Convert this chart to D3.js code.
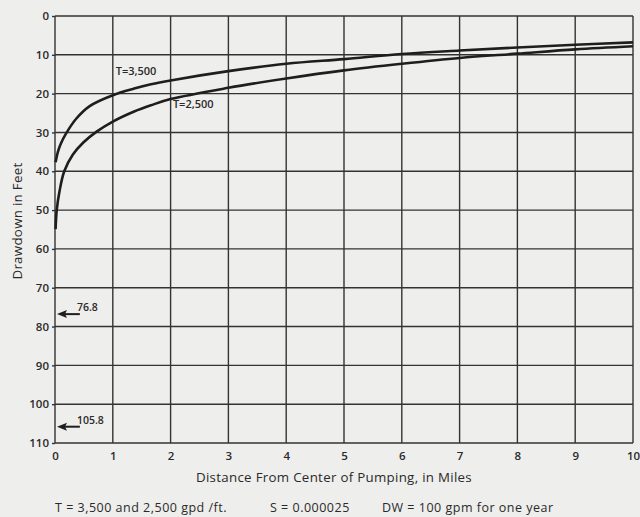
<!DOCTYPE html>
<html>
<head>
<meta charset="utf-8">
<script src="https://cdn.jsdelivr.net/npm/d3@7"></script>
<style>
  body { margin: 0; background: #eeeeec; }
  svg { display: block; }
  text { font-family: "Open Sans", "DejaVu Sans", sans-serif; fill: #2a2a2a; }
  .tick text { font-weight: 600; font-size: 11.5px; }
</style>
</head>
<body>
<script>
// miles from center of pumping vs drawdown in feet
var distT3500 = [0.01, 0.05, 0.1, 0.19, 0.37, 0.6, 1, 1.37, 1.66, 2, 3, 4, 5, 6, 7, 8, 9, 10];
var drawT3500 = [37.7, 35.0, 32.9, 30.3, 26.4, 23.2, 20.4, 18.7, 17.6, 16.6, 14.2, 12.3, 11.1, 9.8, 8.9, 8.1, 7.4, 6.8];

var distT2500 = [0.01, 0.03, 0.075, 0.16, 0.31, 0.49, 0.72, 1, 1.37, 1.66, 2, 3, 4, 5, 6, 7, 8, 9, 10];
var drawT2500 = [54.9, 50, 45.4, 40, 35.7, 32.6, 29.8, 27.2, 24.6, 23.0, 21.4, 18.5, 16.1, 14, 12.3, 10.8, 9.7, 8.6, 7.8];

var xTicks = [0, 1, 2, 3, 4, 5, 6, 7, 8, 9, 10];
var yTicks = [0, 10, 20, 30, 40, 50, 60, 70, 80, 90, 100, 110];

// drawdown at the well, marked with arrows
var wellValues = [76.8, 105.8];

var w = 640,
    h = 517;

var svg = d3.select("body").append("svg")
    .attr("width", w)
    .attr("height", h);

var x = d3.scaleLinear().domain([0, 10]).range([55, 633]);
var y = d3.scaleLinear().domain([0, 110]).range([16, 443]);

// grid
svg.append("g")
    .selectAll("line")
    .data(xTicks)
    .join("line")
    .attr("x1", d => x(d)).attr("x2", d => x(d))
    .attr("y1", y(0)).attr("y2", y(110))
    .attr("stroke", "#333")
    .attr("stroke-width", 1.4);

svg.append("g")
    .selectAll("line")
    .data(yTicks)
    .join("line")
    .attr("x1", x(0)).attr("x2", x(10))
    .attr("y1", d => y(d)).attr("y2", d => y(d))
    .attr("stroke", "#333")
    .attr("stroke-width", 1.4);

// axes
var yAxis = svg.append("g")
    .attr("transform", "translate(" + x(0) + ",0)")
    .call(d3.axisLeft(y).tickValues(yTicks).tickSize(3).tickPadding(3));
yAxis.select(".domain").remove();
yAxis.selectAll(".tick line").attr("stroke", "#333").attr("stroke-width", 1.4);

var xAxis = svg.append("g")
    .attr("transform", "translate(0," + y(110) + ")")
    .call(d3.axisBottom(x).tickValues(xTicks).tickSize(0).tickPadding(9));
xAxis.select(".domain").remove();

// curves
var line = d3.line()
    .x(d => x(d[0]))
    .y(d => y(d[1]))
    .curve(d3.curveCatmullRom.alpha(0.5));

svg.append("path")
    .datum(d3.zip(distT3500, drawT3500))
    .attr("d", line)
    .attr("fill", "none")
    .attr("stroke", "#1e1e1e")
    .attr("stroke-width", 2.6);

svg.append("path")
    .datum(d3.zip(distT2500, drawT2500))
    .attr("d", line)
    .attr("fill", "none")
    .attr("stroke", "#1e1e1e")
    .attr("stroke-width", 2.6);

// curve labels
svg.append("text")
    .attr("x", x(1.05)).attr("y", y(15.3))
    .style("font-size", "11px").style("font-weight", 600)
    .text("T=3,500");

svg.append("text")
    .attr("x", x(2.04)).attr("y", y(23.8))
    .style("font-size", "11px").style("font-weight", 600)
    .text("T=2,500");

// arrows at the well
var arrows = svg.append("g")
    .selectAll("g")
    .data(wellValues)
    .join("g")
    .attr("transform", d => "translate(0," + y(d) + ")");

arrows.append("line")
    .attr("x1", x(0.15)).attr("x2", x(0.43))
    .attr("stroke", "#1e1e1e")
    .attr("stroke-width", 2);

arrows.append("path")
    .attr("d", "M" + (x(0) + 2) + ",0 L" + (x(0) + 12) + ",-4 L" + (x(0) + 10) + ",0 L" + (x(0) + 12) + ",4 Z")
    .attr("fill", "#1e1e1e");

arrows.append("text")
    .attr("x", x(0.38)).attr("y", -3)
    .style("font-size", "10.5px").style("font-weight", 600)
    .text(d => d);

// axis titles
svg.append("text")
    .attr("x", 334).attr("y", 482)
    .attr("text-anchor", "middle")
    .style("font-size", "13.3px")
    .style("letter-spacing", "0.3px")
    .text("Distance From Center of Pumping, in Miles");

svg.append("text")
    .attr("transform", "translate(22,221) rotate(-90)")
    .attr("text-anchor", "middle")
    .style("font-size", "13.3px")
    .style("letter-spacing", "0.3px")
    .text("Drawdown in Feet");

// notes under the chart
var notes = svg.append("g")
    .style("font-size", "12.5px")
    .style("letter-spacing", "0.5px");

notes.append("text")
    .attr("x", 55).attr("y", 512)
    .text("T = 3,500 and 2,500 gpd /ft.");

notes.append("text")
    .attr("x", 270).attr("y", 512)
    .text("S = 0.000025");

notes.append("text")
    .attr("x", 382).attr("y", 512)
    .text("DW = 100 gpm for one year");
</script>
</body>
</html>
